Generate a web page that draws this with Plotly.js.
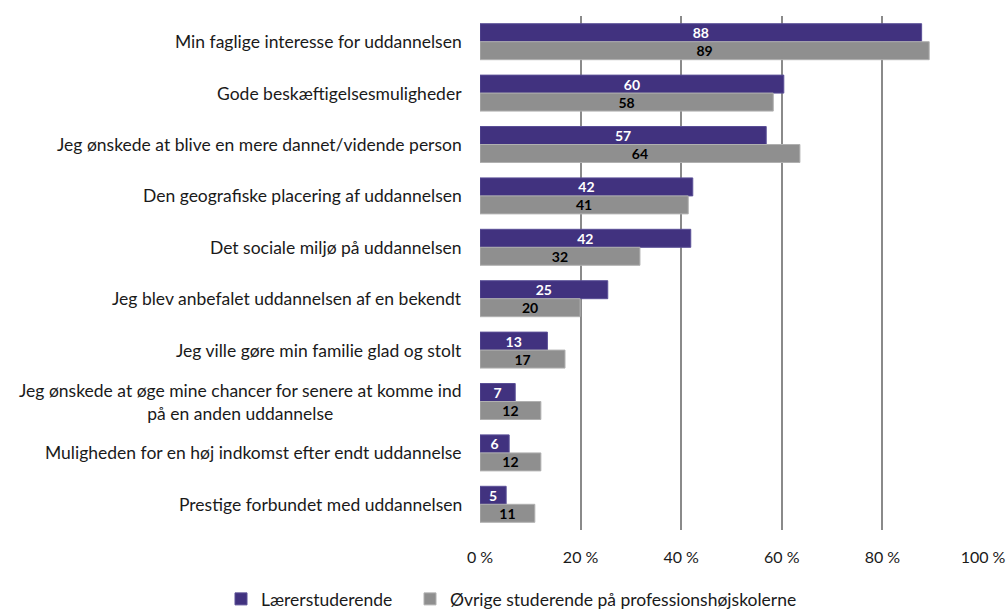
<!DOCTYPE html>
<html>
<head>
<meta charset="utf-8">
<script src="https://cdn.plot.ly/plotly-3.0.1.min.js"></script>
<style>html,body{margin:0;padding:0;background:#fff;}#chart{width:1007px;height:612px;}</style>
</head>
<body>
<div id="chart"></div>
<script>
const categories = [
  "Min faglige interesse for uddannelsen",
  "Gode beskæftigelsesmuligheder",
  "Jeg ønskede at blive en mere dannet/vidende person",
  "Den geografiske placering af uddannelsen",
  "Det sociale miljø på uddannelsen",
  "Jeg blev anbefalet uddannelsen af en bekendt",
  "Jeg ville gøre min familie glad og stolt",
  "Jeg ønskede at øge mine chancer for senere at komme ind<br>på en anden uddannelse",
  "Muligheden for en høj indkomst efter endt uddannelse",
  "Prestige forbundet med uddannelsen"
];
const seriesNames = ["Lærerstuderende", "Øvrige studerende på professionshøjskolerne"];
const laerer = [87.8, 60.4, 56.9, 42.3, 41.9, 25.4, 13.4, 7.0, 5.8, 5.2];
const laererLabels = ["88", "60", "57", "42", "42", "25", "13", "7", "6", "5"];
const oevrige = [89.3, 58.3, 63.6, 41.4, 31.8, 19.9, 16.9, 12.1, 12.1, 10.9];
const oevrigeLabels = ["89", "58", "64", "41", "32", "20", "17", "12", "12", "11"];
const xTicks = [0, 20, 40, 60, 80, 100];

const FONT = "Lato, 'Noto Sans', sans-serif";

const traces = [
  {
    type: "bar", orientation: "h", name: seriesNames[0], legend: "legend",
    x: laerer, y: categories, text: laererLabels,
    textposition: "inside", insidetextanchor: "middle", constraintext: "none", textangle: 0,
    textfont: {color: "#ffffff", size: 14, family: FONT, weight: 700},
    marker: {color: "#41327f", line: {color: "#5a4f96", width: 1}},
    hoverinfo: "x+y"
  },
  {
    type: "bar", orientation: "h", name: seriesNames[1], legend: "legend2",
    x: oevrige, y: categories, text: oevrigeLabels,
    textposition: "inside", insidetextanchor: "middle", constraintext: "none", textangle: 0,
    textfont: {color: "#000000", size: 14, family: FONT, weight: 700},
    marker: {color: "#8f8f8f", line: {color: "#b0b0b0", width: 1}},
    hoverinfo: "x+y"
  }
];

const annotations = categories.map(c => ({
  xref: "paper", yref: "y", x: 0, y: c, xanchor: "right", xshift: -16,
  text: c, showarrow: false, align: "center",
  font: {family: FONT, size: 17.5, color: "#1a1a1a"}
}));

const legendCommon = {
  orientation: "h", xref: "container", yref: "container",
  xanchor: "left", y: 13 / 612, yanchor: "middle",
  font: {family: FONT, size: 17.5, color: "#1a1a1a"},
  itemwidth: 30, bgcolor: "rgba(0,0,0,0)"
};

const layout = {
  width: 1007, height: 612,
  margin: {l: 480, r: 24, t: 16, b: 82},
  paper_bgcolor: "#ffffff", plot_bgcolor: "#ffffff",
  font: {family: FONT, size: 16, color: "#1a1a1a"},
  barmode: "group", bargap: 0.3, bargroupgap: 0,
  showlegend: true,
  xaxis: {
    range: [0, 100], tickvals: xTicks, ticktext: xTicks.map(v => v + " %"),
    showgrid: true, gridcolor: "#8a8a8a", gridwidth: 2,
    zeroline: false, showline: false, ticks: "", ticklabelstandoff: 16,
    tickfont: {family: FONT, size: 16, color: "#1a1a1a"}, fixedrange: true
  },
  yaxis: {
    autorange: "reversed", showticklabels: false, showgrid: false,
    zeroline: false, showline: false, ticks: "", fixedrange: true
  },
  legend: Object.assign({}, legendCommon, {x: 221 / 1007}),
  legend2: Object.assign({}, legendCommon, {x: 410 / 1007}),
  annotations: annotations
};

Plotly.newPlot("chart", traces, layout, {displayModeBar: false, staticPlot: true});
</script>
</body>
</html>
